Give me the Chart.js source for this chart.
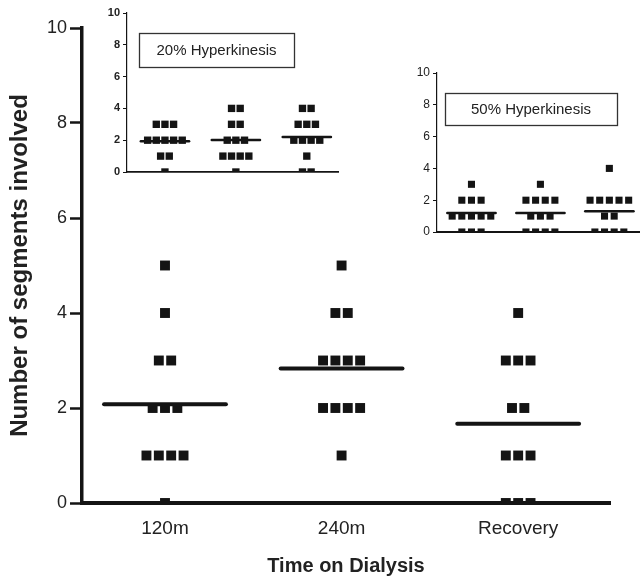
<!DOCTYPE html>
<html>
<head>
<meta charset="utf-8">
<script src="https://cdn.jsdelivr.net/npm/chart.js@4.4.0/dist/chart.umd.min.js"></script>
<style>
  html, body { margin: 0; padding: 0; background: #fff; }
  #wrap { position: relative; width: 644px; height: 578px; }
  .panel { position: absolute; }
</style>
</head>
<body>
<div id="wrap">
  <div class="panel" style="left:0;top:0;width:644px;height:578px"><canvas id="main"></canvas></div>
  <div class="panel" style="left:90px;top:0;width:260px;height:190px"><canvas id="inset20"></canvas></div>
  <div class="panel" style="left:395px;top:60px;width:249px;height:190px"><canvas id="inset50"></canvas></div>
</div>
<script>
// categories / tick values
const categories = ['120m', '240m', 'Recovery'];
const yTickValues = [0, 2, 4, 6, 8, 10];

// main panel : segments involved (one value per patient)
const main120 = [5, 4, 3, 3, 2, 2, 2, 1, 1, 1, 1, 0];
const main240 = [5, 4, 4, 3, 3, 3, 3, 2, 2, 2, 2, 1];
const mainRecovery = [4, 3, 3, 3, 2, 2, 1, 1, 1, 0, 0, 0];
const mainMeans = [2.08, 2.83, 1.67];

// inset : 20% hyperkinesis
const hyper20_120 = [3, 3, 3, 2, 2, 2, 2, 2, 1, 1, 0];
const hyper20_240 = [4, 4, 3, 3, 2, 2, 2, 1, 1, 1, 1, 0];
const hyper20_recovery = [4, 4, 3, 3, 3, 2, 2, 2, 2, 1, 0, 0];
const hyper20Means = [1.93, 2.02, 2.2];

// inset : 50% hyperkinesis
const hyper50_120 = [3, 2, 2, 2, 1, 1, 1, 1, 1, 0, 0, 0];
const hyper50_240 = [3, 2, 2, 2, 2, 1, 1, 1, 0, 0, 0, 0];
const hyper50_recovery = [4, 2, 2, 2, 2, 2, 1, 1, 0, 0, 0, 0];
const hyper50Means = [1.2, 1.2, 1.3];

const INK = '#141414';

// spread identical values side by side (like a column scatter)
function spreadPoints(groups, pitch) {
  const pts = [];
  groups.forEach((vals, g) => {
    const counts = {};
    vals.forEach(v => { counts[v] = (counts[v] || 0) + 1; });
    Object.keys(counts).forEach(k => {
      const n = counts[k];
      for (let i = 0; i < n; i++) {
        pts.push({ x: g + 1 + (i - (n - 1) / 2) * pitch, y: Number(k) });
      }
    });
  });
  return pts;
}

// draw the framed label of an inset
const labelBox = {
  id: 'labelBox',
  afterDraw(chart, args, opts) {
    if (!opts.text) return;
    const ctx = chart.ctx;
    ctx.save();
    ctx.fillStyle = '#fff';
    ctx.fillRect(opts.x, opts.y, opts.w, opts.h);
    ctx.strokeStyle = '#333';
    ctx.lineWidth = 1.3;
    ctx.strokeRect(opts.x + 0.5, opts.y + 0.5, opts.w, opts.h);
    ctx.fillStyle = '#222';
    ctx.font = opts.font;
    ctx.textAlign = 'center';
    ctx.textBaseline = 'middle';
    ctx.fillText(opts.text, opts.x + opts.w / 2, opts.y + opts.h / 2 + 1);
    ctx.restore();
  }
};

function makeChart(id, groups, means, c) {
  const datasets = means.map((m, i) => ({
    data: [{ x: i + 1 - c.half, y: m }, { x: i + 1 + c.half, y: m }],
    showLine: true,
    borderColor: INK,
    borderWidth: c.meanWidth,
    borderCapStyle: 'round',
    pointRadius: 0
  }));
  datasets.push({
    data: spreadPoints(groups, c.pitch),
    pointStyle: 'rect',
    pointRadius: c.radius,
    backgroundColor: INK,
    borderColor: INK,
    borderWidth: 0
  });

  return new Chart(document.getElementById(id), {
    type: 'scatter',
    data: { datasets },
    plugins: [labelBox],
    options: {
      responsive: true,
      maintainAspectRatio: false,
      animation: false,
      layout: { padding: c.padding },
      plugins: {
        legend: { display: false },
        tooltip: { enabled: false },
        labelBox: c.box || {}
      },
      scales: {
        x: {
          type: 'linear',
          min: c.xMin,
          max: c.xMax,
          afterFit: s => { s.height = c.xHeight; },
          afterBuildTicks: s => { s.ticks = categories.map((_, i) => ({ value: i + 1 })); },
          grid: { display: false },
          border: { display: true, color: INK, width: c.xAxisWidth },
          ticks: {
            display: c.xLabels,
            padding: 6,
            color: '#222',
            font: { family: 'Liberation Sans, Arial', size: 19 },
            callback: v => categories[v - 1]
          },
          title: {
            display: !!c.xTitle,
            text: c.xTitle,
            color: '#222',
            padding: { top: 0, bottom: 0 },
            font: { family: 'Liberation Sans, Arial', size: 20, weight: 'bold' }
          }
        },
        y: {
          min: 0,
          max: 10,
          afterFit: s => { s.width = c.yWidth; },
          afterBuildTicks: s => { s.ticks = yTickValues.map(v => ({ value: v })); },
          grid: {
            display: true,
            drawOnChartArea: false,
            drawTicks: true,
            tickLength: c.tickLength,
            tickWidth: c.tickWidth,
            tickColor: INK
          },
          border: { display: true, color: INK, width: c.yAxisWidth },
          ticks: {
            padding: c.tickPad,
            color: '#222',
            font: { family: 'Liberation Sans, Arial', size: c.tickFont, weight: c.tickWeight }
          },
          title: {
            display: !!c.yTitle,
            text: c.yTitle,
            color: '#222',
            padding: { top: 6, bottom: 0 },
            font: { family: 'Liberation Sans, Arial', size: 24, weight: 'bold' }
          }
        }
      }
    }
  });
}

makeChart('main', [main120, main240, mainRecovery], mainMeans, {
  xMin: 0.53, xMax: 3.52,
  padding: { top: 28, right: 34, left: 0, bottom: 0 },
  xHeight: 75, yWidth: 82,
  pitch: 0.07, radius: 7, half: 0.345, meanWidth: 4,
  xAxisWidth: 4, yAxisWidth: 3.5,
  tickLength: 12, tickWidth: 2.5, tickPad: 3, tickFont: 18, tickWeight: 'normal',
  xLabels: true,
  xTitle: 'Time on Dialysis',
  yTitle: 'Number of segments involved'
});

makeChart('inset20', [hyper20_120, hyper20_240, hyper20_recovery], hyper20Means, {
  xMin: 0.465, xMax: 3.44,
  padding: { top: 13, right: 12, left: 0, bottom: 0 },
  xHeight: 18, yWidth: 37,
  pitch: 0.122, radius: 5.2, half: 0.34, meanWidth: 2.5,
  xAxisWidth: 1.8, yAxisWidth: 1.2,
  tickLength: 4, tickWidth: 1, tickPad: 3, tickFont: 11, tickWeight: 'bold',
  xLabels: false,
  box: { text: '20% Hyperkinesis', x: 49, y: 33, w: 155, h: 34, font: '15px "Liberation Sans", Arial' }
});

makeChart('inset50', [hyper50_120, hyper50_240, hyper50_recovery], hyper50Means, {
  xMin: 0.5, xMax: 3.43,
  padding: { top: 13, right: 4, left: 0, bottom: 0 },
  xHeight: 18, yWidth: 42,
  pitch: 0.14, radius: 5, half: 0.35, meanWidth: 2.5,
  xAxisWidth: 2, yAxisWidth: 1.2,
  tickLength: 4, tickWidth: 1, tickPad: 3, tickFont: 12, tickWeight: 'normal',
  xLabels: false,
  box: { text: '50% Hyperkinesis', x: 50, y: 33, w: 172, h: 32, font: '15px "Liberation Sans", Arial' }
});
</script>
</body>
</html>
